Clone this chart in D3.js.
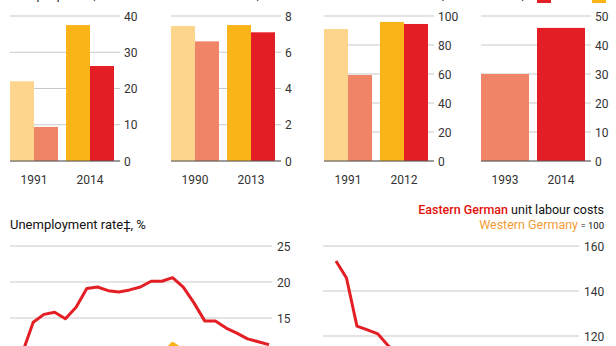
<!DOCTYPE html>
<html>
<head>
<meta charset="utf-8">
<script src="https://cdn.jsdelivr.net/npm/d3@7"></script>
<style>
  body { margin: 0; background: #fff; }
  text { font-family: Roboto, "Open Sans", sans-serif; }
</style>
</head>
<body>
<div id="chart"></div>
<script>
// bar panels (top row)
const gdpYears = ["1991", "2014"];
const gdpWest = [22.0, 37.5];
const gdpEast = [9.4, 26.2];
const gdpTicks = [0, 10, 20, 30, 40];

const satYears = ["1990", "2013"];
const satWest = [7.45, 7.5];
const satEast = [6.6, 7.1];
const satTicks = [0, 2, 4, 6, 8];

const hhYears = ["1991", "2012"];
const hhWest = [91, 95.9];
const hhEast = [59.3, 94.5];
const hhTicks = [0, 20, 40, 60, 80, 100];

const p4Years = ["1993", "2014"];
const p4East = [30, 45.9];
const p4Ticks = [0, 10, 20, 30, 40, 50];

// line panels (bottom row)
const years = d3.range(1991, 2015);
const unempEast = [10.2, 14.4, 15.5, 15.8, 14.9, 16.5, 19.1, 19.3, 18.8, 18.6, 18.9, 19.3,
  20.1, 20.1, 20.6, 19.3, 17.1, 14.6, 14.6, 13.6, 12.9, 12.1, 11.7, 11.3];
const unempWest = [6.2, 6.4, 8.0, 9.0, 9.1, 9.9, 10.8, 10.3, 9.6, 8.4, 8.0, 8.5,
  9.3, 9.9, 11.5, 10.5, 8.3, 7.2, 7.8, 7.4, 6.7, 6.6, 6.7, 6.6];
const unempTicks = [0, 5, 10, 15, 20, 25];
const ulcEast = [153.3, 145.8, 124.4, 122.7, 120.9, 115.6, 112, 110, 109, 108, 107, 106,
  105, 104, 103, 103, 104, 105, 106, 105, 105, 106, 106, 106];
const ulcTicks = [100, 120, 140, 160];

const cLight = "#fdd58c", cSalmon = "#f08467", cOrange = "#fbb417", cRed = "#e31e25";
const cGrid = "#c9c9c9", cText = "#333";

const svg = d3.select("#chart").append("svg")
  .attr("width", 616).attr("height", 346);

// --- top bar panels ---
function barPanel(left, title, cats, series, colors, ticks) {
  const g = svg.append("g");
  const y = d3.scaleLinear().domain([0, d3.max(ticks)]).range([161, 16]);
  const x = d3.scaleBand().domain(cats).range([left, left + 104]).paddingInner(8 / 56);
  const gridEnd = left + 110;

  // gridlines + labels
  g.selectAll("line.grid").data(ticks).enter().append("line")
    .attr("x1", left).attr("x2", gridEnd)
    .attr("y1", d => y(d)).attr("y2", d => y(d))
    .attr("stroke", cGrid).attr("stroke-width", 1);
  g.selectAll("text.tick").data(ticks).enter().append("text")
    .attr("x", gridEnd + 4).attr("y", d => y(d) + 4.5)
    .attr("font-size", 12).attr("fill", cText).text(d => d);

  // bars
  const inner = d3.scaleBand().domain(d3.range(series.length)).range([0, x.bandwidth()]);
  series.forEach((vals, si) => {
    g.selectAll(null).data(cats).enter().append("rect")
      .attr("x", d => x(d) + inner(si))
      .attr("width", inner.bandwidth())
      .attr("y", (d, i) => y(vals[i]))
      .attr("height", (d, i) => y(0) - y(vals[i]))
      .attr("fill", (d, i) => colors[i][si]);
  });

  g.append("line").attr("x1", left).attr("x2", gridEnd)
    .attr("y1", y(0)).attr("y2", y(0)).attr("stroke", "#555").attr("stroke-width", 1);

  g.selectAll("text.year").data(cats).enter().append("text")
    .attr("x", d => x(d) + x.bandwidth() / 2).attr("y", 184)
    .attr("text-anchor", "middle").attr("font-size", 12).attr("fill", cText)
    .text(d => d);

  // panel title sits above the visible area, only its descenders show
  g.append("text").attr("x", left).attr("y", -1)
    .attr("font-size", 12).attr("fill", "#111").text(title);
}

barPanel(10, "GDP per person, €'000", gdpYears, [gdpWest, gdpEast],
  [[cLight, cSalmon], [cOrange, cRed]], gdpTicks);
barPanel(171, "Life satisfaction, 0-10", satYears, [satWest, satEast],
  [[cLight, cSalmon], [cOrange, cRed]], satTicks);
barPanel(324, "Households with a car, %", hhYears, [hhWest, hhEast],
  [[cLight, cSalmon], [cOrange, cRed]], hhTicks);
barPanel(481, "Women, %", p4Years, [p4East],
  [[cSalmon], [cRed]], p4Ticks);

// legend (mostly cut off at top)
svg.append("rect").attr("x", 537).attr("y", -9).attr("width", 14).attr("height", 12).attr("fill", cRed);
svg.append("text").attr("x", 555).attr("y", -2).attr("font-size", 12).attr("fill", cText).text("East");
svg.append("rect").attr("x", 592).attr("y", -9).attr("width", 14).attr("height", 12).attr("fill", cOrange);

// --- bottom line panels ---
function gridLines(g, y, ticks, x1, x2, labelX) {
  g.selectAll(null).data(ticks).enter().append("line")
    .attr("x1", x1).attr("x2", x2)
    .attr("y1", d => y(d)).attr("y2", d => y(d))
    .attr("stroke", cGrid).attr("stroke-width", 1);
  g.selectAll(null).data(ticks).enter().append("text")
    .attr("x", labelX).attr("y", d => y(d) + 4.5)
    .attr("font-size", 12).attr("fill", cText).text(d => d);
}

// unemployment
const gL = svg.append("g");
const xL = d3.scaleLinear().domain([1991, 2014]).range([22.5, 269]);
const yL = d3.scaleLinear().domain([0, 25]).range([426, 246]);
gridLines(gL, yL, unempTicks, 10, 272, 277);
const lineL = d3.line().x((d, i) => xL(years[i])).y(d => yL(d));
gL.append("path").datum(unempWest).attr("d", lineL)
  .attr("fill", "none").attr("stroke", cOrange).attr("stroke-width", 3).attr("stroke-linejoin", "round");
gL.append("path").datum(unempEast).attr("d", lineL)
  .attr("fill", "none").attr("stroke", cRed).attr("stroke-width", 3).attr("stroke-linejoin", "round");
gL.append("text").attr("x", 10).attr("y", 229).attr("font-size", 13).attr("fill", "#111")
  .text("Unemployment rate‡, %");

// unit labour costs
const gR = svg.append("g");
const xR = d3.scaleLinear().domain([1991, 2014]).range([336, 577]);
const yR = d3.scaleLinear().domain([100, 160]).range([381, 246]);
gridLines(gR, yR, ulcTicks, 323, 579, 584);
const lineR = d3.line().x((d, i) => xR(years[i])).y(d => yR(d));
gR.append("path").datum(ulcEast).attr("d", lineR)
  .attr("fill", "none").attr("stroke", cRed).attr("stroke-width", 3).attr("stroke-linejoin", "round");

const t1 = gR.append("text").attr("x", 604).attr("y", 214).attr("text-anchor", "end").attr("font-size", 12.5);
t1.append("tspan").attr("fill", "#e3120b").attr("font-weight", 500).text("Eastern German");
t1.append("tspan").attr("fill", "#111").text(" unit labour costs");
const t2 = gR.append("text").attr("x", 604).attr("y", 229).attr("text-anchor", "end").attr("font-size", 12.5);
t2.append("tspan").attr("fill", "#f39c35").text("Western Germany");
t2.append("tspan").attr("fill", "#111").attr("font-size", 9.5).text(" = 100");
</script>
</body>
</html>
